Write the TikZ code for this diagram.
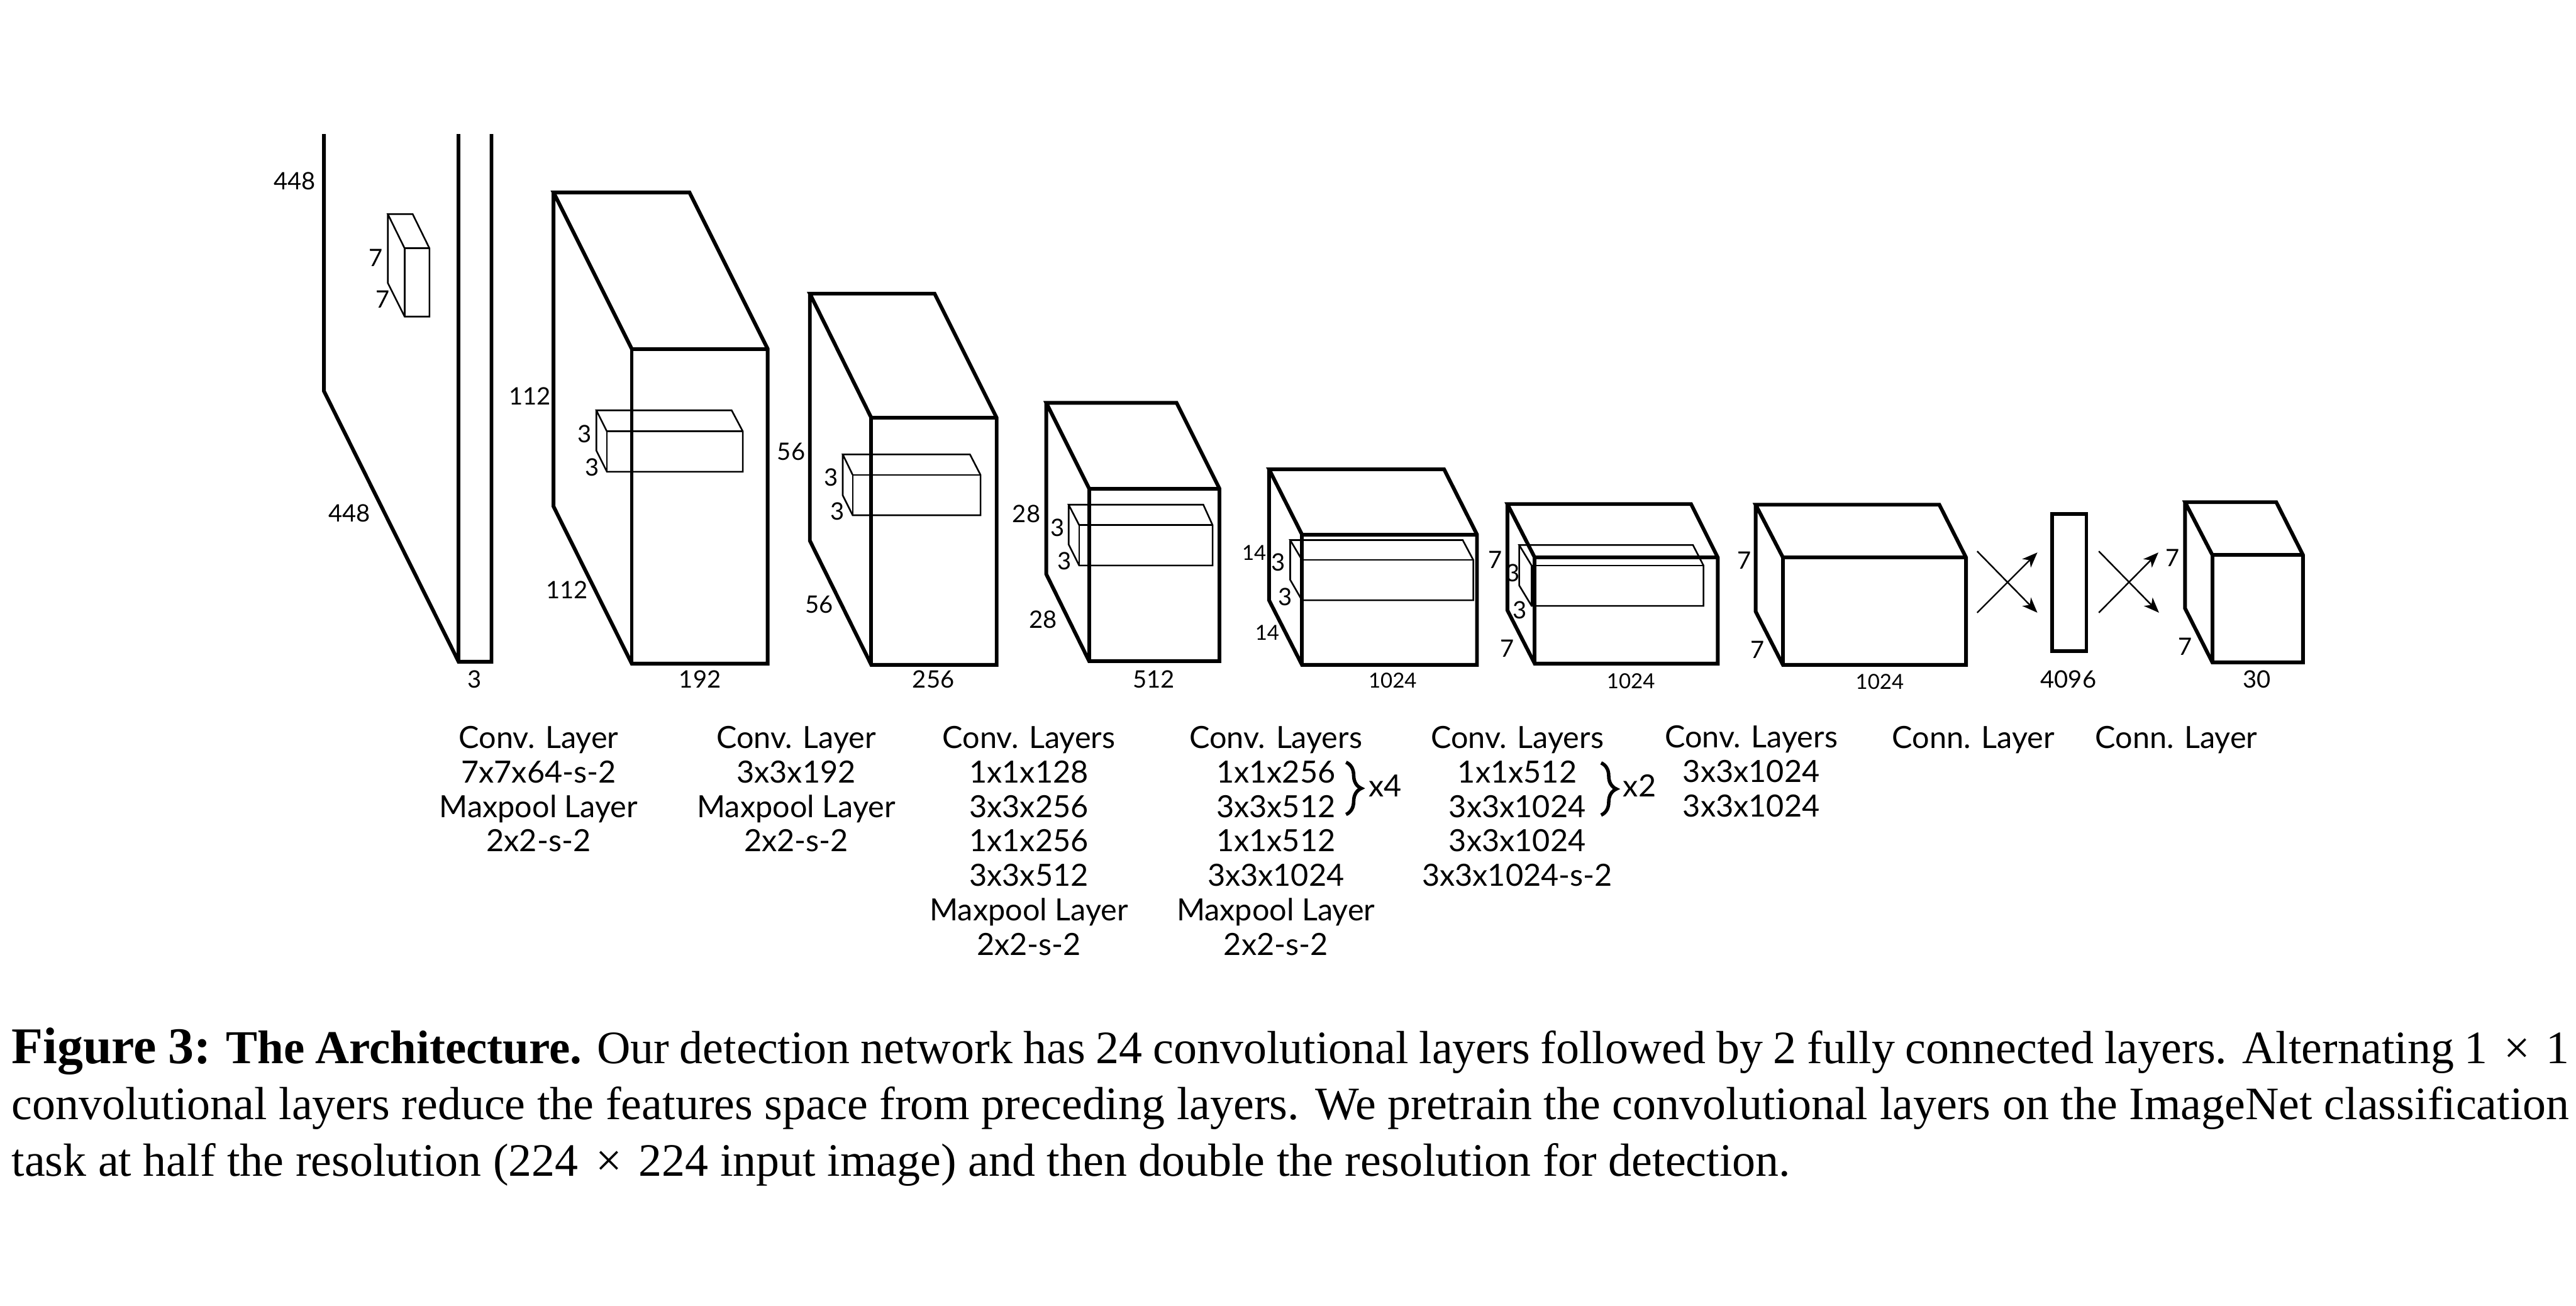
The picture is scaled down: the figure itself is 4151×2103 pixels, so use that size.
\documentclass[tikz,border=0pt]{standalone}
\usepackage{fontspec}
\setmainfont{Liberation Serif}
\newfontfamily\layerfont{Lato}
\usepackage{tikz}
\usetikzlibrary{arrows.meta, decorations.pathreplacing}

\begin{document}
\begin{tikzpicture}[x=0.01cm, y=-0.01cm,
  heavy/.style={line width=1.7pt},
  thinbox/.style={line width=0.75pt},
  flow/.style={line width=0.7pt, -{Stealth[length=7pt, width=5.5pt, inset=2pt]}},
  dimlabel/.style={inner sep=0pt, font=\layerfont\fontsize{11}{12}\selectfont},
  dimsmall/.style={inner sep=0pt, font=\layerfont\fontsize{9.5}{11}\selectfont},
  layertext/.style={inner sep=0pt, anchor=north, align=center, font=\layerfont\fontsize{14}{15.8}\selectfont},
  repbrace/.style={line width=1.6pt, decorate, decoration={brace, amplitude=7pt}}]

\useasboundingbox (0, 0) rectangle (4151, 2103);

% ===== input image, top cut off =====
\draw[heavy] (522, 216) -- (522, 630) -- (739, 1066) -- (792, 1066) -- (792, 216);
\draw[heavy] (739, 216) -- (739, 1066);
\draw[thinbox] (652, 400) -- (625, 345) -- (665, 345) -- (692, 400) -- (692, 510) -- (652, 510) -- (625, 456) -- (625, 345);
\draw[thinbox] (652, 510) -- (652, 400) -- (692, 400);
\node[dimlabel] (inH)  at (475, 292) {448};
\node[dimlabel] (inD)  at (563, 827) {448};
\node[dimlabel] (inW)  at (765, 1094) {3};
\node[dimlabel] (kerH) at (606, 415) {7};
\node[dimlabel] (kerD) at (617, 482) {7};

% ===== 112 x 112 x 192 =====
\draw[heavy] (1018, 562) -- (892, 310) -- (1111, 310) -- (1237, 562) -- (1237, 1069) -- (1018, 1069) -- (892, 816) -- (892, 310);
\draw[heavy] (1018, 1069) -- (1018, 562) -- (1237, 562);
\draw[thinbox] (978, 695) -- (961, 661) -- (1179, 661) -- (1197, 695) -- (1197, 760) -- (978, 760) -- (961, 726) -- (961, 661);
\draw[thinbox] (978, 760) -- (978, 695) -- (1197, 695);
\node[dimlabel] (aH)  at (854, 638) {112};
\node[dimlabel] (aD)  at (914, 950) {112};
\node[dimlabel] (aW)  at (1128, 1094) {192};
\node[dimlabel] (aKh) at (942, 699) {3};
\node[dimlabel] (aKd) at (954, 753) {3};

% ===== 56 x 56 x 256 =====
\draw[heavy] (1404, 673) -- (1305, 473) -- (1506, 473) -- (1606, 673) -- (1606, 1071) -- (1404, 1071) -- (1305, 871) -- (1305, 473);
\draw[heavy] (1404, 1071) -- (1404, 673) -- (1606, 673);
\draw[thinbox] (1374, 765) -- (1358, 732) -- (1563, 732) -- (1580, 765) -- (1580, 830) -- (1374, 830) -- (1358, 798) -- (1358, 732);
\draw[thinbox] (1374, 830) -- (1374, 765) -- (1580, 765);
\node[dimlabel] (bH)  at (1275, 728) {56};
\node[dimlabel] (bD)  at (1320, 974) {56};
\node[dimlabel] (bW)  at (1504, 1094) {256};
\node[dimlabel] (bKh) at (1339, 769) {3};
\node[dimlabel] (bKd) at (1349, 824) {3};

% ===== 28 x 28 x 512 =====
\draw[heavy] (1755, 787) -- (1686, 649) -- (1896, 649) -- (1965, 787) -- (1965, 1065) -- (1755, 1065) -- (1686, 925) -- (1686, 649);
\draw[heavy] (1755, 1065) -- (1755, 787) -- (1965, 787);
\draw[thinbox] (1739, 846) -- (1722, 813) -- (1939, 813) -- (1954, 846) -- (1954, 911) -- (1739, 911) -- (1722, 877) -- (1722, 813);
\draw[thinbox] (1739, 911) -- (1739, 846) -- (1954, 846);
\node[dimlabel] (cH)  at (1654, 828) {28};
\node[dimlabel] (cD)  at (1681, 998) {28};
\node[dimlabel] (cW)  at (1859, 1094) {512};
\node[dimlabel] (cKh) at (1704, 850) {3};
\node[dimlabel] (cKd) at (1715, 904) {3};

% ===== 14 x 14 x 1024 =====
\draw[heavy] (2098, 861) -- (2045, 756) -- (2327, 756) -- (2380, 861) -- (2380, 1071) -- (2098, 1071) -- (2045, 967) -- (2045, 756);
\draw[heavy] (2098, 1071) -- (2098, 861) -- (2380, 861);
\draw[thinbox] (2098, 902) -- (2079, 870) -- (2357, 870) -- (2374, 902) -- (2374, 967) -- (2098, 967) -- (2079, 934) -- (2079, 870);
\draw[thinbox] (2098, 967) -- (2098, 902) -- (2374, 902);
\node[dimsmall] (dH)  at (2021, 890) {14};
\node[dimsmall] (dD)  at (2042, 1019) {14};
\node[dimsmall] (dW)  at (2244, 1096) {1024};
\node[dimlabel] (dKh) at (2060, 906) {3};
\node[dimlabel] (dKd) at (2071, 962) {3};

% ===== 7 x 7 x 1024 =====
\draw[heavy] (2473, 898) -- (2429, 812) -- (2725, 812) -- (2768, 898) -- (2768, 1069) -- (2473, 1069) -- (2429, 983) -- (2429, 812);
\draw[heavy] (2473, 1069) -- (2473, 898) -- (2768, 898);
\draw[thinbox] (2468, 911) -- (2448, 878) -- (2728, 878) -- (2745, 911) -- (2745, 976) -- (2468, 976) -- (2448, 943) -- (2448, 878);
\draw[thinbox] (2468, 976) -- (2468, 911) -- (2745, 911);
\node[dimlabel] (eH)  at (2409, 902) {7};
\node[dimlabel] (eD)  at (2429, 1045) {7};
\node[dimsmall] (eW)  at (2628, 1097) {1024};
\node[dimlabel] (eKh) at (2438, 923) {3};
\node[dimlabel] (eKd) at (2449, 983) {3};

% ===== 7 x 7 x 1024, no kernel =====
\draw[heavy] (2873, 898) -- (2829, 813) -- (3125, 813) -- (3168, 898) -- (3168, 1071) -- (2873, 1071) -- (2829, 985) -- (2829, 813);
\draw[heavy] (2873, 1071) -- (2873, 898) -- (3168, 898);
\node[dimlabel] (fH) at (2811, 903) {7};
\node[dimlabel] (fD) at (2832, 1047) {7};
\node[dimsmall] (fW) at (3029, 1098) {1024};

% ===== connected layer =====
\coordinate (xaTop) at (3186, 888);
\coordinate (xaBot) at (3186, 987);
\coordinate (xbTop) at (3283, 890);
\coordinate (xbBot) at (3283, 987);
\draw[flow] (xaTop) -- (xbBot);
\draw[flow] (xaBot) -- (xbTop);
\draw[heavy] (3307, 828) rectangle (3362, 1049);
\node[dimlabel] (gW) at (3333, 1094) {4096};

% ===== output =====
\coordinate (yaTop) at (3382, 888);
\coordinate (yaBot) at (3382, 987);
\coordinate (ybTop) at (3478, 890);
\coordinate (ybBot) at (3479, 987);
\draw[flow] (yaTop) -- (ybBot);
\draw[flow] (yaBot) -- (ybTop);
\draw[heavy] (3565, 894) -- (3521, 809) -- (3668, 809) -- (3711, 894) -- (3711, 1067) -- (3565, 1067) -- (3521, 980) -- (3521, 809);
\draw[heavy] (3565, 1067) -- (3565, 894) -- (3711, 894);
\node[dimlabel] (hH) at (3501, 899) {7};
\node[dimlabel] (hD) at (3521, 1042) {7};
\node[dimlabel] (hW) at (3637, 1094) {30};

% ===== layer lists =====
\node[layertext] (listA) at (868, 1169) {Conv. Layer\\7x7x64-s-2\\Maxpool Layer\\2x2-s-2};
\node[layertext] (listB) at (1283, 1169) {Conv. Layer\\3x3x192\\Maxpool Layer\\2x2-s-2};
\node[layertext] (listC) at (1658, 1169) {Conv. Layers\\1x1x128\\3x3x256\\1x1x256\\3x3x512\\Maxpool Layer\\2x2-s-2};
\node[layertext] (listD) at (2056, 1169) {Conv. Layers\\1x1x256\\3x3x512\\1x1x512\\3x3x1024\\Maxpool Layer\\2x2-s-2};
\node[layertext] (listE) at (2445, 1169) {Conv. Layers\\1x1x512\\3x3x1024\\3x3x1024\\3x3x1024-s-2};
\node[layertext] (listF) at (2822, 1168) {Conv. Layers\\3x3x1024\\3x3x1024};
\node[layertext] (listG) at (3180, 1169) {Conn. Layer};
\node[layertext] (listH) at (3507, 1169) {Conn. Layer};

% repeat marks
\draw[repbrace] (2169, 1228) -- (2169, 1312);
\node[layertext, anchor=base] (repD) at (2232, 1283) {x4};
\draw[repbrace] (2580, 1229) -- (2580, 1313);
\node[layertext, anchor=base] (repE) at (2642, 1283) {x2};

% ===== caption =====
\node[anchor=north west, inner sep=0pt, text width=41.19cm, align=justify,
      font=\fontsize{21.3}{25.75}\selectfont] (caption) at (18, 1655) {%
  {\fontsize{23.6}{25.75}\selectfont\bfseries Figure 3:} {\fontsize{21.6}{25.75}\selectfont\bfseries The Architecture.} Our detection network has 24 convolutional layers followed by 2 fully connected layers. Alternating 1\hspace{0.12em} × \hspace{0.12em}1\linebreak
  convolutional layers reduce the features space from preceding layers. We pretrain the convolutional layers on the ImageNet classification\linebreak
  task at half the resolution (224\hspace{0.12em} × \hspace{0.12em}224 input image) and then double the resolution for detection.};

\end{tikzpicture}
\end{document}
